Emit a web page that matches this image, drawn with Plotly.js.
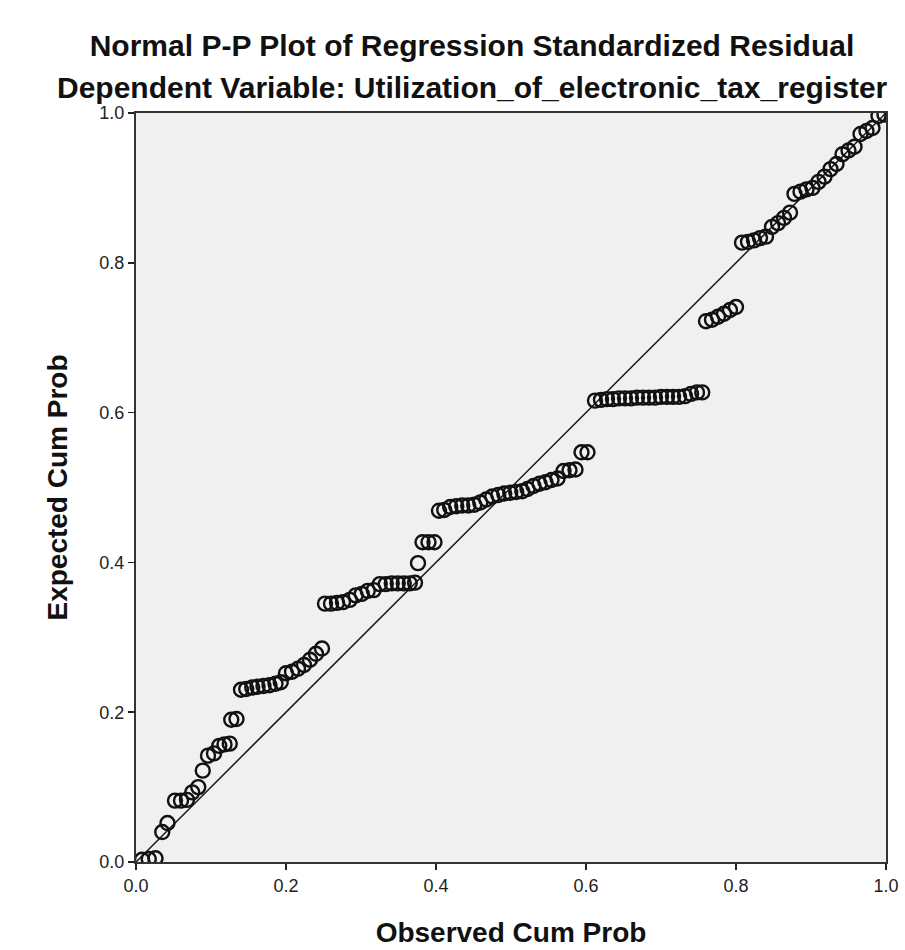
<!DOCTYPE html>
<html>
<head>
<meta charset="utf-8">
<script src="https://cdn.plot.ly/plotly-3.0.1.min.js"></script>
<style>html,body{margin:0;padding:0;background:#fff;}#chart{width:905px;height:950px;}</style>
</head>
<body>
<div id="chart"></div>
<script>
// Observed cumulative probability (x) and expected cumulative probability (y)
var observedCumProb = [
  0.008,0.017,0.026,0.035,0.042,0.052,0.060,0.068,0.075,0.083,
  0.089,0.096,0.104,0.111,0.118,0.125,0.127,0.134,0.140,0.147,
  0.155,0.162,0.170,0.178,0.186,0.193,0.200,0.208,0.216,0.224,
  0.232,0.240,0.248,0.252,0.260,0.268,0.276,0.285,0.293,0.301,
  0.309,0.317,0.325,0.333,0.341,0.349,0.357,0.365,0.372,0.376,
  0.382,0.390,0.398,0.404,0.411,0.419,0.427,0.435,0.443,0.451,
  0.459,0.467,0.475,0.483,0.491,0.499,0.507,0.515,0.522,0.530,
  0.538,0.546,0.554,0.562,0.570,0.578,0.586,0.594,0.602,0.612,
  0.620,0.628,0.636,0.644,0.652,0.660,0.668,0.676,0.684,0.692,
  0.700,0.708,0.716,0.724,0.732,0.740,0.748,0.755,0.760,0.768,
  0.776,0.784,0.792,0.800,0.808,0.816,0.824,0.832,0.840,0.848,
  0.856,0.864,0.872,0.878,0.886,0.894,0.902,0.910,0.918,0.926,
  0.934,0.942,0.950,0.958,0.966,0.974,0.982,0.990,0.998
];
var expectedCumProb = [
  0.003,0.004,0.005,0.040,0.052,0.082,0.082,0.083,0.093,0.100,
  0.122,0.142,0.145,0.155,0.157,0.158,0.190,0.191,0.230,0.231,
  0.233,0.234,0.235,0.236,0.238,0.240,0.252,0.254,0.258,0.263,
  0.270,0.278,0.285,0.345,0.345,0.346,0.347,0.350,0.356,0.358,
  0.362,0.363,0.371,0.371,0.372,0.372,0.372,0.372,0.373,0.399,
  0.427,0.427,0.427,0.469,0.470,0.474,0.475,0.476,0.476,0.477,
  0.480,0.484,0.488,0.490,0.492,0.493,0.494,0.495,0.498,0.502,
  0.505,0.507,0.510,0.512,0.522,0.523,0.524,0.547,0.547,0.616,
  0.617,0.618,0.618,0.619,0.619,0.619,0.620,0.620,0.620,0.620,
  0.621,0.621,0.621,0.621,0.622,0.625,0.627,0.627,0.722,0.724,
  0.728,0.732,0.737,0.741,0.827,0.828,0.830,0.833,0.835,0.848,
  0.853,0.860,0.867,0.892,0.895,0.898,0.900,0.908,0.915,0.925,
  0.932,0.945,0.950,0.955,0.972,0.976,0.980,0.996,0.998
];
var refLineX = [0, 1];
var refLineY = [0, 1];
var tickVals = [0, 0.2, 0.4, 0.6, 0.8, 1.0];
var tickLabels = ["0.0", "0.2", "0.4", "0.6", "0.8", "1.0"];
var titleMain = 'Normal P-P Plot of Regression Standardized Residual';
var titleSub = 'Dependent Variable: Utilization_of_electronic_tax_register';

var FONT = 'Liberation Sans, Arial, sans-serif';

var traces = [
  {
    x: refLineX, y: refLineY, mode: 'lines', type: 'scatter',
    line: {color: '#1a1a1a', width: 1.5}, hoverinfo: 'skip', showlegend: false
  },
  {
    x: observedCumProb, y: expectedCumProb, mode: 'markers', type: 'scatter',
    marker: {symbol: 'circle-open', size: 14, color: '#111', line: {width: 2.4, color: '#111'}},
    showlegend: false
  }
];

var axisBase = {
  range: [0, 1], tickmode: 'array', tickvals: tickVals, ticktext: tickLabels,
  ticks: 'outside', ticklen: 6, tickwidth: 1.5, tickcolor: '#222',
  showgrid: false, zeroline: false, showline: true, linecolor: '#333', linewidth: 2,
  mirror: true, tickfont: {family: FONT, size: 18, color: '#222'},
  fixedrange: true
};

var layout = {
  width: 905, height: 950,
  margin: {l: 136, r: 19, t: 113, b: 88},
  paper_bgcolor: '#ffffff', plot_bgcolor: '#f0f0f0',
  font: {family: FONT, color: '#111'},
  title: {
    text: '<b>' + titleMain + '</b>',
    x: 472 / 905, xref: 'container', xanchor: 'center', yref: 'container', y: 1 - 45 / 950, yanchor: 'middle',
    font: {size: 30, family: FONT, color: '#111'}
  },
  annotations: [{
    text: '<b>' + titleSub + '</b>', xref: 'paper', yref: 'paper',
    x: (472 - 136) / 750, y: 1.0334, xanchor: 'center', yanchor: 'middle', showarrow: false,
    font: {size: 30, family: FONT, color: '#111'}
  }],
  xaxis: Object.assign({}, axisBase, {
    title: {text: '<b>Observed Cum Prob</b>', standoff: 28, font: {size: 28, family: FONT, color: '#111'}}
  }),
  yaxis: Object.assign({}, axisBase, {
    title: {text: '<b>Expected Cum Prob</b>', standoff: 24, font: {size: 28, family: FONT, color: '#111'}}
  }),
  showlegend: false
};

Plotly.newPlot('chart', traces, layout, {displayModeBar: false, staticPlot: true});
</script>
</body>
</html>
